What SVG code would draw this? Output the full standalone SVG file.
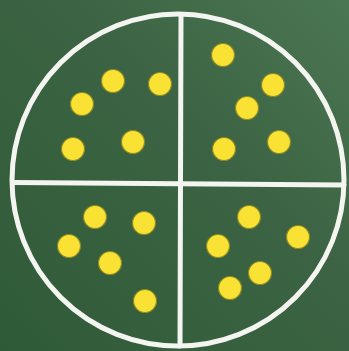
<svg xmlns="http://www.w3.org/2000/svg" width="349" height="351" viewBox="0 0 349 351">
<defs>
<linearGradient id="bg" x1="0" y1="1" x2="1" y2="0">
<stop offset="0" stop-color="#2f5a37"/>
<stop offset="0.6" stop-color="#3c6444"/>
<stop offset="1" stop-color="#4b7653"/>
</linearGradient>
<style>
.chalk{fill:none;stroke:#f4f4f0;stroke-width:5;stroke-linecap:round}
.dot{fill:#fae235;stroke:#8c8a25;stroke-width:1.2}
</style>
</defs>
<rect width="349" height="351" fill="url(#bg)"/>
<g id="board">
<circle class="chalk" cx="178" cy="180" r="166"/>
<line class="chalk" x1="181" y1="15" x2="180" y2="346"/>
<line class="chalk" x1="13" y1="182.5" x2="344" y2="185"/>
</g>
<g id="q1">
<circle class="dot" cx="113" cy="81" r="11.5"/>
<circle class="dot" cx="160" cy="84" r="11.5"/>
<circle class="dot" cx="82" cy="104" r="11.5"/>
<circle class="dot" cx="73" cy="149" r="11.5"/>
<circle class="dot" cx="133" cy="142" r="11.5"/>
</g>
<g id="q2">
<circle class="dot" cx="223" cy="55" r="11.5"/>
<circle class="dot" cx="273" cy="85" r="11.5"/>
<circle class="dot" cx="247" cy="108" r="11.5"/>
<circle class="dot" cx="224" cy="149" r="11.5"/>
<circle class="dot" cx="279" cy="142" r="11.5"/>
</g>
<g id="q3">
<circle class="dot" cx="95" cy="217" r="11.5"/>
<circle class="dot" cx="144" cy="223" r="11.5"/>
<circle class="dot" cx="69" cy="246" r="11.5"/>
<circle class="dot" cx="110" cy="263" r="11.5"/>
<circle class="dot" cx="145" cy="301" r="11.5"/>
</g>
<g id="q4">
<circle class="dot" cx="249" cy="217" r="11.5"/>
<circle class="dot" cx="298" cy="237" r="11.5"/>
<circle class="dot" cx="218" cy="246" r="11.5"/>
<circle class="dot" cx="260" cy="273" r="11.5"/>
<circle class="dot" cx="230" cy="288" r="11.5"/>
</g>
</svg>
